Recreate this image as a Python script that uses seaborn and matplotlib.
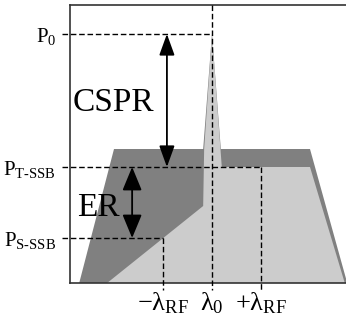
"""
CSPR / ER 개념도: T-SSB, S-SSB 스펙트럼 비교
"""
import numpy as np
import matplotlib
matplotlib.use("Agg")
import matplotlib.pyplot as plt
from matplotlib.patches import FancyArrowPatch
import seaborn as sns

sns.set_theme(style="white")
plt.rcParams["font.family"] = ["Liberation Serif", "DejaVu Serif"]
plt.rcParams["mathtext.fontset"] = "custom"
plt.rcParams["mathtext.rm"] = "Liberation Serif"
plt.rcParams["mathtext.it"] = "Liberation Serif:italic"

# 스펙트럼 (x: lambda_RF 단위, y: 임의 전력 단위)
tssb_x = [-2.71, -2.0, -0.18, 0.0, 0.18, 2.0, 2.76]
tssb_y = [0, 134, 134, 249, 134, 134, 0]
sssb_x = [-2.14, -0.18, -0.16, 0.0, 0.20, 2.0, 2.71]
sssb_y = [0, 77, 134, 249, 116, 116, 0]

# 전력 레벨
P0 = 249
P_TSSB = 116
P_SSSB = 45
levels = [P_SSSB, P_TSSB, P0]
level_labels = [r"P$_{\mathrm{S}\text{-}\mathrm{SSB}}$", r"P$_{\mathrm{T}\text{-}\mathrm{SSB}}$", r"P$_{0}$"]

# 파장 위치
wl = [-1, 0, 1]
wl_labels = [r"−λ$_{\mathrm{RF}}$", r"λ$_{0}$", r"+λ$_{\mathrm{RF}}$"]

DARK = "#808080"
LIGHT = "#cccccc"


def main():
    fig = plt.figure(figsize=(3.46, 3.23), dpi=100)
    ax = fig.add_axes([70 / 346, 40 / 323, 1 - 70 / 346, 278 / 323])
    ax.set_xlim(-2.898, 2.735)
    ax.set_ylim(0, 278)

    ax.fill(tssb_x, tssb_y, color=DARK, lw=0, zorder=1)
    ax.fill(sssb_x, sssb_y, color=LIGHT, lw=0, zorder=2)

    # 점선 가이드
    x_left = -3.06
    y_low = -7
    dash = dict(color="black", lw=1.0, ls=(0, (4, 2)), clip_on=False, zorder=4)
    ax.plot([x_left, wl[1]], [P0, P0], **dash)
    ax.plot([x_left, wl[2]], [P_TSSB, P_TSSB], **dash)
    ax.plot([x_left, wl[0]], [P_SSSB, P_SSSB], **dash)
    ax.plot([wl[1], wl[1]], [278, y_low], **dash)
    ax.plot([wl[0], wl[0]], [P_SSSB, y_low], **dash)
    ax.plot([wl[2], wl[2]], [P_TSSB, y_low], **dash)

    # 화살표
    a1 = FancyArrowPatch((-0.92, P0), (-0.92, P_TSSB),
                         arrowstyle="<|-|>,head_length=1.3,head_width=0.47",
                         mutation_scale=10, color="black", lw=1.3,
                         shrinkA=0, shrinkB=0, zorder=5)
    a2 = FancyArrowPatch((-1.63, P_TSSB), (-1.63, P_SSSB),
                         arrowstyle="<|-|>,head_length=1.45,head_width=0.6",
                         mutation_scale=10, color="black", lw=1.3,
                         shrinkA=0, shrinkB=0, zorder=5)
    ax.add_patch(a1)
    ax.add_patch(a2)

    ax.text(-2.84, 180, "CSPR", fontsize=24, va="center", ha="left", color="black", zorder=6)
    ax.text(-2.75, 75, "ER", fontsize=24, va="center", ha="left", color="black", zorder=6)

    ax.set_yticks(levels)
    ax.set_yticklabels(level_labels, fontsize=15)
    ax.set_xticks(wl)
    ax.set_xticklabels(wl_labels, fontsize=19)
    ax.tick_params(axis="both", length=0, colors="black")
    ax.tick_params(axis="y", pad=10)
    ax.tick_params(axis="x", pad=5)

    sns.despine(ax=ax, top=False, right=True)
    for s in ["left", "bottom", "top"]:
        ax.spines[s].set_color("#333333")
        ax.spines[s].set_linewidth(1.2)
    ax.grid(False)

    fig.savefig("out.png", dpi=100)
    plt.close(fig)


if __name__ == "__main__":
    main()
